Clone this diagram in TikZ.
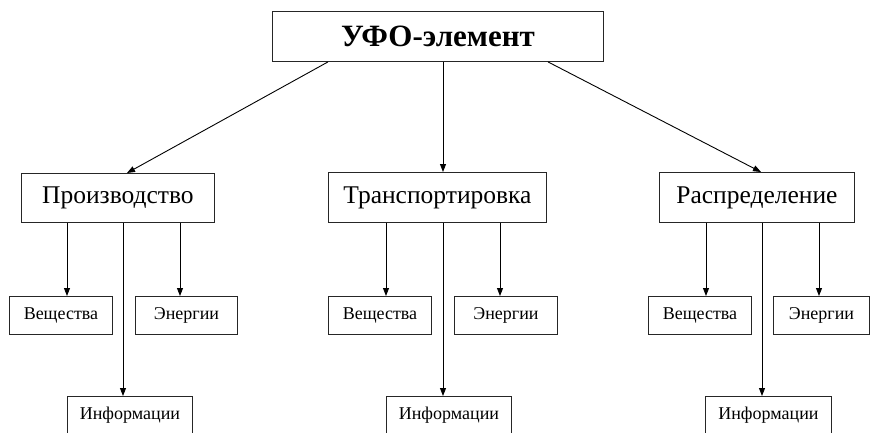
\documentclass[tikz,border=0pt]{standalone}
\usepackage{fontspec}
\setmainfont{Liberation Serif}
\usetikzlibrary{arrows.meta}
\begin{document}
\begin{tikzpicture}[x=1pt,y=-1pt,
  box/.style={draw=black!85,line width=0.9pt,inner sep=0pt,anchor=north west},
  big/.style={box,font=\fontsize{31}{33}\selectfont\bfseries},
  mid/.style={box,font=\fontsize{25.5}{28}\selectfont},
  small/.style={box,font=\fontsize{18}{20}\selectfont},
  info/.style={small,minimum height=45pt,text height=23pt,text depth=22pt},
  arr/.style={line width=0.9pt,-{Triangle[length=8pt,width=6pt]}}]
\useasboundingbox (0,0) rectangle (870,432);
\clip (0,0) rectangle (870,432);
% top
\node[big,minimum width=331pt,minimum height=50pt] (top) at (272,11) {УФО-элемент};
% level 2
\node[mid,minimum width=193pt,minimum height=49pt] (p1) at (21,173) {Производство};
\node[mid,minimum width=218pt,minimum height=50pt] (p2) at (328,172) {Транспортировка};
\node[mid,minimum width=195pt,minimum height=50pt] (p3) at (659,172) {Распределение};
% level 3 left
\node[small,minimum width=103pt,minimum height=38pt] (v1) at (9,296) {Вещества};
\node[small,minimum width=102pt,minimum height=38pt] (e1) at (135,296) {Энергии};
\node[info,minimum width=125pt] (i1) at (67,396) {Информации};
% level 3 middle
\node[small,minimum width=103pt,minimum height=38pt] (v2) at (328,296) {Вещества};
\node[small,minimum width=103pt,minimum height=38pt] (e2) at (454,296) {Энергии};
\node[info,minimum width=125pt] (i2) at (386,396) {Информации};
% level 3 right
\node[small,minimum width=103pt,minimum height=38pt] (v3) at (648,296) {Вещества};
\node[small,minimum width=96pt,minimum height=38pt] (e3) at (773,296) {Энергии};
\node[info,minimum width=126pt] (i3) at (705,396) {Информации};
% helper x positions
\coordinate (ta) at (328,0);
\coordinate (tb) at (443,0);
\coordinate (tc) at (548,0);
\coordinate (ha) at (127,0);
\coordinate (hc) at (761,0);
\coordinate (a1) at (67,0);  \coordinate (b1) at (123,0); \coordinate (c1) at (180,0);
\coordinate (a2) at (386,0); \coordinate (b2) at (443,0); \coordinate (c2) at (500,0);
\coordinate (a3) at (706,0); \coordinate (b3) at (762,0); \coordinate (c3) at (819,0);
% top arrows
\draw[arr] (top.south -| ta) -- (p1.north -| ha);
\draw[arr] (top.south -| tb) -- (p2.north -| tb);
\draw[arr] (top.south -| tc) -- (p3.north -| hc);
% children
\draw[arr] (p1.south -| a1) -- (v1.north -| a1);
\draw[arr] (p1.south -| c1) -- (e1.north -| c1);
\draw[arr] (p1.south -| b1) -- (i1.north -| b1);
\draw[arr] (p2.south -| a2) -- (v2.north -| a2);
\draw[arr] (p2.south -| c2) -- (e2.north -| c2);
\draw[arr] (p2.south -| b2) -- (i2.north -| b2);
\draw[arr] (p3.south -| a3) -- (v3.north -| a3);
\draw[arr] (p3.south -| c3) -- (e3.north -| c3);
\draw[arr] (p3.south -| b3) -- (i3.north -| b3);
\end{tikzpicture}
\end{document}
